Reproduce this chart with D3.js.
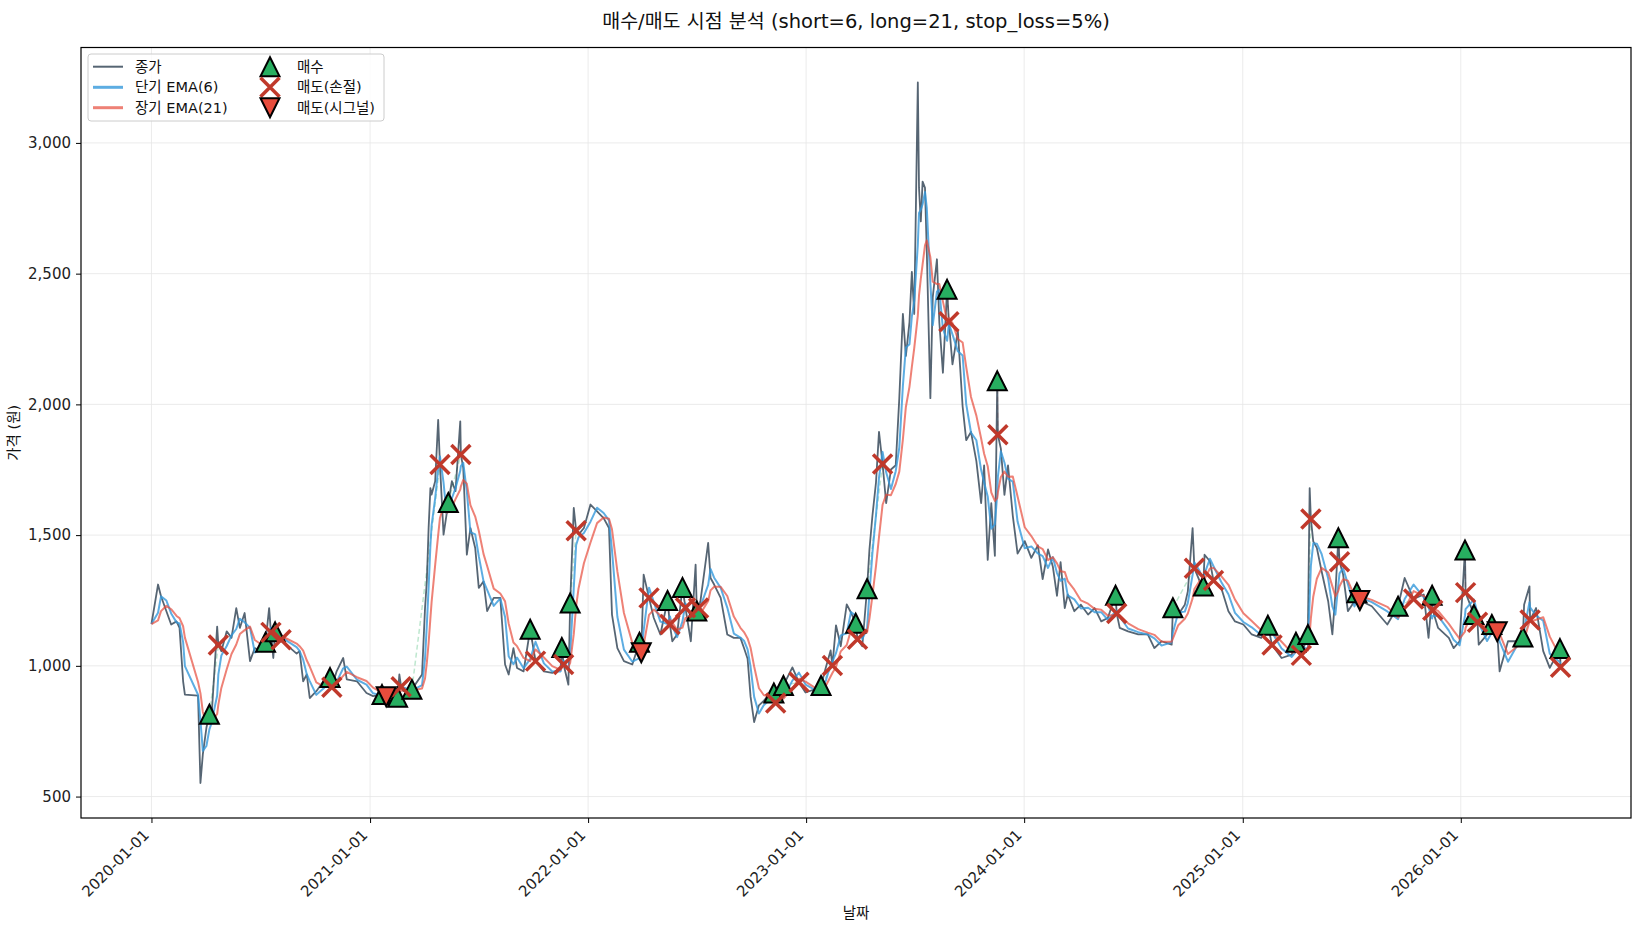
<!DOCTYPE html>
<html lang="ko">
<head>
<meta charset="utf-8">
<title>매수/매도 시점 분석</title>
<script src="https://cdn.jsdelivr.net/npm/d3@7"></script>
<style>
  body { margin: 0; background: #fff; }
  svg { font-family: "DejaVu Sans", "Noto Sans CJK KR", sans-serif; }
</style>
</head>
<body>
<script>
// 종가 (날짜, 가격)
var closeData = [
  ["2020-01-01",1160],["2020-01-12",1311],["2020-01-17",1266],["2020-01-26",1209],["2020-02-03",1158],["2020-02-12",1170],
  ["2020-02-17",1145],["2020-02-23",941],["2020-02-26",890],["2020-03-19",886],["2020-03-23",552],["2020-03-27",661],
  ["2020-04-02",763],["2020-04-07",815],["2020-04-10",782],["2020-04-20",1150],["2020-04-22",1080],["2020-04-27",1056],
  ["2020-05-06",1132],["2020-05-14",1107],["2020-05-22",1221],["2020-05-28",1145],["2020-06-05",1202],["2020-06-14",1018],
  ["2020-06-22",1068],["2020-07-03",1056],["2020-07-10",1090],["2020-07-16",1221],["2020-07-19",1128],["2020-07-23",1030],
  ["2020-07-26",1130],["2020-08-05",1100],["2020-08-14",1081],["2020-08-31",1047],["2020-09-05",1056],["2020-09-11",941],
  ["2020-09-17",967],["2020-09-22",877],["2020-10-03",903],["2020-10-15",941],["2020-10-26",955],["2020-10-29",918],
  ["2020-11-06",979],["2020-11-17",1030],["2020-11-23",948],["2020-12-10",941],["2020-12-26",896],
  ["2021-01-06",884],["2021-01-21",890],["2021-01-28",882],["2021-02-09",900],["2021-02-16",880],["2021-02-19",967],
  ["2021-02-22",920],["2021-02-26",903],["2021-03-12",910],["2021-03-29",967],["2021-04-03",1221],["2021-04-06",1323],
  ["2021-04-09",1527],["2021-04-12",1680],["2021-04-14",1655],["2021-04-20",1706],["2021-04-25",1941],["2021-04-28",1770],
  ["2021-05-04",1502],["2021-05-09",1578],["2021-05-12",1625],["2021-05-18",1706],["2021-05-24",1668],["2021-06-01",1935],
  ["2021-06-02",1808],["2021-06-06",1757],["2021-06-12",1425],["2021-06-18",1527],["2021-06-26",1451],["2021-07-02",1298],
  ["2021-07-10",1323],["2021-07-16",1209],["2021-07-27",1260],["2021-08-07",1260],["2021-08-15",1005],["2021-08-21",967],
  ["2021-08-29",1068],["2021-09-04",992],["2021-09-15",979],["2021-09-26",1140],["2021-10-05",1018],["2021-10-19",979],
  ["2021-11-02",973],["2021-11-16",992],["2021-11-18",1070],["2021-11-21",1005],["2021-11-29",928],["2021-12-02",1240],
  ["2021-12-08",1604],["2021-12-12",1517],["2021-12-16",1502],["2021-12-25",1527],
  ["2022-01-05",1617],["2022-01-16",1591],["2022-01-27",1565],["2022-02-05",1527],["2022-02-10",1196],["2022-02-19",1068],
  ["2022-03-02",1018],["2022-03-16",1005],["2022-03-28",1090],["2022-03-31",1050],["2022-04-04",1349],["2022-04-13",1260],
  ["2022-04-21",1183],["2022-05-02",1120],["2022-05-14",1250],["2022-05-18",1158],["2022-05-22",1094],["2022-05-30",1120],
  ["2022-06-08",1300],["2022-06-13",1222],["2022-06-22",1094],["2022-06-30",1387],["2022-07-02",1210],["2022-07-05",1221],
  ["2022-07-08",1247],["2022-07-21",1470],["2022-07-25",1336],["2022-07-31",1311],["2022-08-11",1260],["2022-08-22",1120],
  ["2022-09-02",1107],["2022-09-13",1107],["2022-09-19",1068],["2022-09-25",1027],["2022-09-30",882],["2022-10-06",785],
  ["2022-10-14",849],["2022-10-22",866],["2022-11-03",898],["2022-11-08",896],["2022-11-11",858],["2022-11-24",925],
  ["2022-12-09",994],["2022-12-20",937],["2022-12-31",898],
  ["2023-01-20",914],["2023-01-26",925],["2023-02-03",994],["2023-02-11",1059],["2023-02-14",1001],["2023-02-20",1155],
  ["2023-02-28",1075],["2023-03-10",1235],["2023-03-17",1204],["2023-03-25",1163],["2023-03-28",1102],["2023-04-05",1075],
  ["2023-04-13",1295],["2023-04-17",1445],["2023-04-22",1574],["2023-04-28",1702],["2023-05-03",1895],["2023-05-09",1772],
  ["2023-05-15",1622],["2023-05-23",1751],["2023-05-31",1767],["2023-06-06",2024],["2023-06-12",2346],["2023-06-17",2185],
  ["2023-06-23",2314],["2023-06-27",2507],["2023-07-01",2346],["2023-07-07",3231],["2023-07-09",2828],["2023-07-12",2700],
  ["2023-07-15",2852],["2023-07-19",2828],["2023-07-22",2587],["2023-07-28",2024],["2023-08-01",2410],["2023-08-08",2555],
  ["2023-08-12",2314],["2023-08-18",2121],["2023-08-25",2440],["2023-08-28",2316],["2023-09-03",2153],["2023-09-12",2281],
  ["2023-09-20",1992],["2023-09-26",1863],["2023-10-04",1895],["2023-10-13",1783],["2023-10-21",1622],["2023-10-26",1767],
  ["2023-11-01",1405],["2023-11-07",1622],["2023-11-13",1421],["2023-11-17",2090],["2023-11-18",1884],["2023-11-23",1831],
  ["2023-11-29",1654],["2023-12-05",1767],["2023-12-13",1574],["2023-12-21",1429],
  ["2024-01-02",1477],["2024-01-13",1413],["2024-01-24",1461],["2024-02-01",1332],["2024-02-10",1445],["2024-02-18",1380],
  ["2024-02-25",1268],["2024-03-02",1397],["2024-03-09",1221],["2024-03-14",1273],["2024-03-25",1209],["2024-04-05",1234],
  ["2024-04-17",1196],["2024-04-28",1221],["2024-05-09",1170],["2024-05-20",1183],["2024-06-02",1270],["2024-06-04",1200],
  ["2024-06-09",1145],["2024-06-23",1132],["2024-07-10",1120],["2024-07-26",1120],["2024-08-06",1068],["2024-08-18",1094],
  ["2024-09-04",1081],["2024-09-06",1222],["2024-09-15",1196],["2024-09-26",1234],["2024-10-01",1285],["2024-10-09",1527],
  ["2024-10-12",1373],["2024-10-21",1323],["2024-10-27",1305],["2024-10-29",1425],["2024-11-07",1400],["2024-11-13",1326],
  ["2024-11-26",1298],["2024-12-08",1209],["2024-12-19",1170],
  ["2025-01-02",1158],["2025-01-16",1120],["2025-02-01",1107],["2025-02-12",1155],["2025-02-19",1080],["2025-03-07",1030],
  ["2025-03-24",1043],["2025-03-31",1090],["2025-04-09",1040],["2025-04-20",1120],["2025-04-23",1680],["2025-04-25",1562],
  ["2025-04-29",1476],["2025-05-05",1451],["2025-05-13",1362],["2025-05-24",1247],["2025-05-31",1120],["2025-06-05",1273],
  ["2025-06-10",1490],["2025-06-12",1398],["2025-06-18",1349],["2025-06-26",1209],["2025-07-07",1247],["2025-07-11",1280],
  ["2025-07-16",1250],["2025-08-05",1228],["2025-08-31",1158],["2025-09-18",1228],["2025-09-29",1336],["2025-10-14",1256],
  ["2025-10-31",1273],["2025-11-08",1107],["2025-11-14",1270],["2025-11-15",1213],["2025-11-24",1145],["2025-12-12",1107],
  ["2025-12-20",1068],["2025-12-30",1094],
  ["2026-01-08",1443],["2026-01-09",1280],["2026-01-23",1196],["2026-01-29",1167],["2026-01-31",1081],["2026-02-14",1120],
  ["2026-02-22",1158],["2026-03-03",1130],["2026-03-07",979],["2026-03-21",1094],["2026-04-09",1094],["2026-04-15",1110],
  ["2026-04-17",1234],["2026-04-26",1304],["2026-04-27",1175],["2026-05-07",1221],["2026-05-19",1056],["2026-05-30",992],
  ["2026-06-16",1066],["2026-06-17",995]
];

// 매수
var buyData = [
  ["2020-04-07",815],["2020-07-10",1090],["2020-07-26",1130],["2020-10-26",955],["2021-01-21",890],["2021-02-16",880],
  ["2021-03-12",910],["2021-05-12",1625],["2021-09-26",1140],["2021-11-18",1070],["2021-12-02",1240],["2022-03-28",1090],
  ["2022-05-14",1250],["2022-06-08",1300],["2022-07-02",1210],["2022-11-08",896],["2022-11-24",925],["2023-01-26",925],
  ["2023-03-25",1163],["2023-04-13",1295],["2023-08-25",2440],["2023-11-17",2090],["2024-06-02",1270],["2024-09-06",1222],
  ["2024-10-27",1305],["2025-02-12",1155],["2025-03-31",1090],["2025-04-20",1120],["2025-06-10",1490],["2025-07-11",1280],
  ["2025-09-18",1228],["2025-11-14",1270],["2026-01-08",1443],["2026-01-23",1196],["2026-02-22",1158],["2026-04-15",1110],
  ["2026-06-16",1066]
];

// 매도(손절)
var stopData = [
  ["2020-04-22",1080],["2020-07-19",1128],["2020-08-05",1100],["2020-10-29",918],["2021-02-22",920],["2021-04-28",1770],
  ["2021-06-02",1808],["2021-10-05",1018],["2021-11-21",1005],["2021-12-12",1517],["2022-04-13",1260],["2022-05-18",1158],
  ["2022-06-13",1222],["2022-07-05",1221],["2022-11-11",858],["2022-12-20",937],["2023-02-14",1001],["2023-03-28",1102],
  ["2023-05-09",1772],["2023-08-28",2316],["2023-11-18",1884],["2024-06-04",1200],["2024-10-12",1373],["2024-11-13",1326],
  ["2025-02-19",1080],["2025-04-09",1040],["2025-04-25",1562],["2025-06-12",1398],["2025-10-14",1256],["2025-11-15",1213],
  ["2026-01-09",1280],["2026-01-29",1167],["2026-04-27",1175],["2026-06-17",995]
];

// 매도(시그널)
var signalData = [
  ["2021-01-28",882],["2022-03-31",1050],["2025-07-16",1250],["2026-03-03",1130]
];

var yTicks = [500, 1000, 1500, 2000, 2500, 3000];
var xTicks = ["2020-01-01","2021-01-01","2022-01-01","2023-01-01","2024-01-01","2025-01-01","2026-01-01"];
var lineLabels = ["종가", "단기 EMA(6)", "장기 EMA(21)"];
var markerLabels = ["매수", "매도(손절)", "매도(시그널)"];
var shortSpan = 6, longSpan = 21;

var width = 1641, height = 930;
var margin = {top: 47.5, right: 10, bottom: 112, left: 81};
var innerW = width - margin.left - margin.right;
var innerH = height - margin.top - margin.bottom;

var parse = d3.timeParse("%Y-%m-%d");
function toPoints(arr) {
  return arr.map(function(d) { return {date: parse(d[0]), value: d[1]}; });
}
var close = toPoints(closeData);
var buys = toPoints(buyData);
var stops = toPoints(stopData);
var signals = toPoints(signalData);

// EMA on an irregular series: hold the previous close between samples
function ema(series, span) {
  var a = 2 / (span + 1);
  var e = series[0].value;
  return series.map(function(d, i) {
    if (i > 0) {
      var days = (d.date - series[i - 1].date) / 864e5 * 5 / 7;
      var hold = Math.max(days - 1, 0);
      e = series[i - 1].value + (e - series[i - 1].value) * Math.pow(1 - a, hold);
      e = e + a * (d.value - e);
    }
    return {date: d.date, value: e};
  });
}
var emaShort = ema(close, shortSpan);
var emaLong = ema(close, longSpan);

var svg = d3.select("body").append("svg")
  .attr("width", width)
  .attr("height", height);

// scales with 5% padding like matplotlib
var xExt = d3.extent(close, function(d) { return d.date; });
var xPad = (xExt[1] - xExt[0]) * 0.05;
var x = d3.scaleTime()
  .domain([new Date(+xExt[0] - xPad), new Date(+xExt[1] + xPad)])
  .range([0, innerW]);
var yExt = d3.extent(close, function(d) { return d.value; });
var yPad = (yExt[1] - yExt[0]) * 0.05;
var y = d3.scaleLinear()
  .domain([yExt[0] - yPad, yExt[1] + yPad])
  .range([innerH, 0]);

var g = svg.append("g").attr("transform", "translate(" + margin.left + "," + margin.top + ")");

// grid
g.append("g").selectAll("line").data(yTicks).enter().append("line")
  .attr("x1", 0).attr("x2", innerW)
  .attr("y1", function(d) { return y(d); }).attr("y2", function(d) { return y(d); })
  .attr("stroke", "#e6e6e6").attr("stroke-width", 0.8);
g.append("g").selectAll("line").data(xTicks).enter().append("line")
  .attr("x1", function(d) { return x(parse(d)); }).attr("x2", function(d) { return x(parse(d)); })
  .attr("y1", 0).attr("y2", innerH)
  .attr("stroke", "#e6e6e6").attr("stroke-width", 0.8);

// trade connectors: each sell paired with the last open buy
var sells = stops.concat(signals).sort(function(a, b) { return a.date - b.date; });
var trades = [];
var used = {};
sells.forEach(function(s) {
  var open = buys.filter(function(b, i) { return b.date <= s.date && !used[i]; });
  if (!open.length) return;
  var b = open[open.length - 1];
  used[buys.indexOf(b)] = true;
  trades.push({b: b, s: s});
});
g.append("g").selectAll("line").data(trades).enter().append("line")
  .attr("x1", function(d) { return x(d.b.date); }).attr("y1", function(d) { return y(d.b.value); })
  .attr("x2", function(d) { return x(d.s.date); }).attr("y2", function(d) { return y(d.s.value); })
  .attr("stroke", function(d) { return d.s.value >= d.b.value ? "#27ae60" : "#e74c3c"; })
  .attr("stroke-opacity", 0.3)
  .attr("stroke-width", 1.5)
  .attr("stroke-dasharray", "5,3");

var line = d3.line()
  .x(function(d) { return x(d.date); })
  .y(function(d) { return y(d.value); });

g.append("path").datum(close)
  .attr("fill", "none").attr("stroke", "#2c3e50").attr("stroke-opacity", 0.8)
  .attr("stroke-width", 1.8).attr("stroke-linejoin", "round").attr("d", line);
g.append("path").datum(emaShort)
  .attr("fill", "none").attr("stroke", "#3498db").attr("stroke-opacity", 0.8)
  .attr("stroke-width", 2).attr("stroke-linejoin", "round").attr("d", line);
g.append("path").datum(emaLong)
  .attr("fill", "none").attr("stroke", "#e74c3c").attr("stroke-opacity", 0.7)
  .attr("stroke-width", 2).attr("stroke-linejoin", "round").attr("d", line);

// marker shapes
var s = 9.5;
var triUp = "M0," + (-s) + "L" + s + "," + s + "L" + (-s) + "," + s + "Z";
var triDown = "M0," + s + "L" + s + "," + (-s) + "L" + (-s) + "," + (-s) + "Z";
var cross = "M" + (-s) + "," + (-s) + "L" + s + "," + s + "M" + (-s) + "," + s + "L" + s + "," + (-s);

function drawBuy(sel) {
  sel.append("path").attr("d", triUp).attr("fill", "#27ae60")
    .attr("stroke", "#000").attr("stroke-width", 2).attr("stroke-linejoin", "miter");
}
function drawStop(sel) {
  sel.append("path").attr("d", cross).attr("fill", "none")
    .attr("stroke", "#c0392b").attr("stroke-width", 3.5);
}
function drawSignal(sel) {
  sel.append("path").attr("d", triDown).attr("fill", "#e74c3c")
    .attr("stroke", "#000").attr("stroke-width", 2).attr("stroke-linejoin", "miter");
}
function place(d) { return "translate(" + x(d.date) + "," + y(d.value) + ")"; }

g.append("g").selectAll("g").data(buys).enter().append("g").attr("transform", place).call(drawBuy);
g.append("g").selectAll("g").data(stops).enter().append("g").attr("transform", place).call(drawStop);
g.append("g").selectAll("g").data(signals).enter().append("g").attr("transform", place).call(drawSignal);

// spines
g.append("rect").attr("width", innerW).attr("height", innerH)
  .attr("fill", "none").attr("stroke", "#000").attr("stroke-width", 1.2);

// axes
var yAxis = g.append("g")
  .call(d3.axisLeft(y).tickValues(yTicks).tickFormat(d3.format(",")).tickSize(5).tickPadding(5));
var xAxis = g.append("g").attr("transform", "translate(0," + innerH + ")")
  .call(d3.axisBottom(x).tickValues(xTicks.map(parse)).tickFormat(d3.timeFormat("%Y-%m-%d")).tickSize(5));
[yAxis, xAxis].forEach(function(ax) {
  ax.select(".domain").remove();
  ax.selectAll(".tick line").attr("stroke", "#000").attr("stroke-width", 1);
  ax.selectAll(".tick text").attr("fill", "#222").style("font-size", "15px")
    .style("font-family", "'DejaVu Sans', 'Noto Sans CJK KR', sans-serif");
});
xAxis.selectAll(".tick text")
  .attr("x", null).attr("y", null).attr("dy", null)
  .attr("text-anchor", "end")
  .attr("transform", "translate(-2,18) rotate(-45)");

// titles
svg.append("text")
  .attr("x", margin.left + innerW / 2).attr("y", 28)
  .attr("text-anchor", "middle").attr("fill", "#111")
  .style("font-size", "19.5px")
  .text("매수/매도 시점 분석 (short=6, long=21, stop_loss=5%)");
svg.append("text")
  .attr("x", margin.left + innerW / 2).attr("y", 918)
  .attr("text-anchor", "middle").attr("fill", "#111")
  .style("font-size", "14.5px")
  .text("날짜");
svg.append("text")
  .attr("transform", "translate(19," + (margin.top + innerH / 2) + ") rotate(-90)")
  .attr("text-anchor", "middle").attr("fill", "#111")
  .style("font-size", "14.5px")
  .text("가격 (원)");

// legend
var legend = svg.append("g").attr("transform", "translate(88,54)");
legend.append("rect").attr("width", 296).attr("height", 67).attr("rx", 3)
  .attr("fill", "#fff").attr("fill-opacity", 0.8)
  .attr("stroke", "#cccccc").attr("stroke-width", 1);
var lineStyles = [
  {color: "#2c3e50", op: 0.8, w: 2},
  {color: "#3498db", op: 0.8, w: 3},
  {color: "#e74c3c", op: 0.7, w: 3}
];
var rowY = [12.7, 33.3, 53.7];
lineLabels.forEach(function(lab, i) {
  legend.append("line").attr("x1", 5).attr("x2", 35).attr("y1", rowY[i]).attr("y2", rowY[i])
    .attr("stroke", lineStyles[i].color).attr("stroke-opacity", lineStyles[i].op)
    .attr("stroke-width", lineStyles[i].w);
  legend.append("text").attr("x", 47).attr("y", rowY[i]).attr("dy", "0.35em")
    .attr("fill", "#111").style("font-size", "14.5px").text(lab);
});
var markerDraw = [drawBuy, drawStop, drawSignal];
markerLabels.forEach(function(lab, i) {
  legend.append("g").attr("transform", "translate(182," + rowY[i] + ")").call(markerDraw[i]);
  legend.append("text").attr("x", 209).attr("y", rowY[i]).attr("dy", "0.35em")
    .attr("fill", "#111").style("font-size", "14.5px").text(lab);
});
</script>
</body>
</html>
